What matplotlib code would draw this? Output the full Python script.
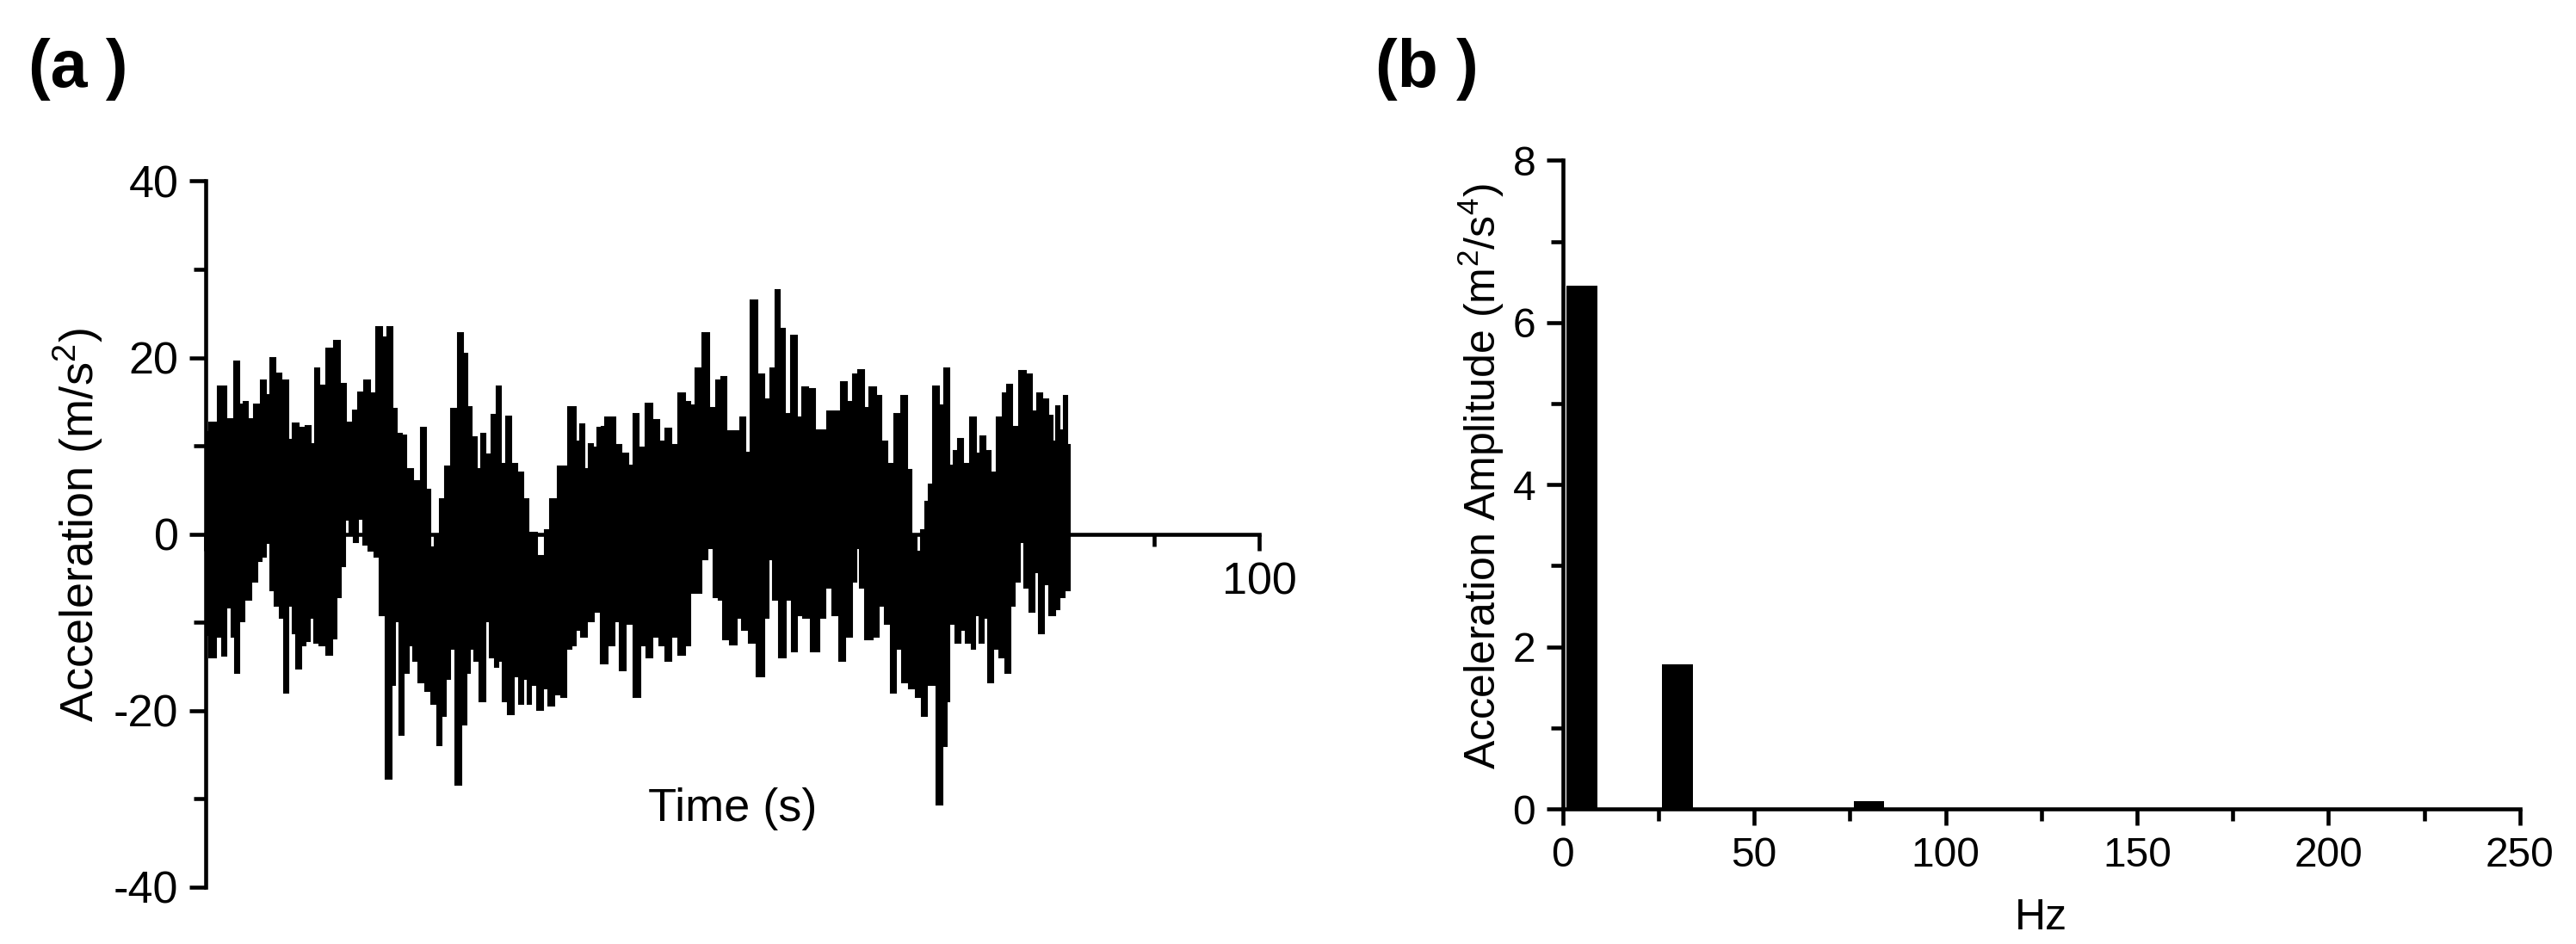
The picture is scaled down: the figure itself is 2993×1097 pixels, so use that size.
import numpy as np
import matplotlib
matplotlib.use('Agg')
import matplotlib.pyplot as plt
from matplotlib import cbook
from matplotlib.ticker import MultipleLocator

plt.rcParams['font.family'] = ['Liberation Sans', 'DejaVu Sans']
plt.rcParams['axes.unicode_minus'] = False
plt.rcParams['mathtext.fontset'] = 'custom'
plt.rcParams['mathtext.rm'] = 'Liberation Sans'
plt.rcParams['mathtext.it'] = 'Liberation Sans:italic'

# --- 1. DATA ---
# (a) acceleration record: upper and lower edge of the dense trace
upper_t = [0.0, 0.7, 1.5, 2.4, 3.0, 3.4, 3.8, 4.25, 4.9, 5.5, 5.9, 6.4, 6.75, 7.6, 8.0,
           8.4, 9.25, 9.7, 10.2, 10.5, 11.1, 11.75, 12.5, 13.0, 13.6, 14.25, 14.7, 15.3,
           15.9, 16.5, 17.0, 17.5, 17.9, 18.4, 18.8, 19.3, 20.1, 20.7, 21.1, 21.5, 21.95,
           22.4, 23.0, 23.6, 24.2, 24.6, 25.0, 25.5, 25.9, 26.3, 26.75, 27.4, 27.8, 28.2,
           28.8, 29.25, 29.9, 30.3, 30.9, 31.9, 32.4, 33.0, 33.8, 34.9, 35.3, 35.7, 36.1,
           36.5, 36.95, 37.4, 37.7, 38.1, 38.7, 39.1, 39.75, 40.4, 40.8, 41.4, 42.0, 42.7,
           43.3, 43.9, 44.5, 45.2, 45.8, 46.2, 46.8, 47.5, 48.1, 48.7, 49.1, 49.75, 50.4,
           51.0, 51.4, 52.0, 52.7, 53.3, 53.9, 54.2, 54.7, 55.2, 55.8, 56.4, 56.8, 57.5,
           58.1, 58.7, 59.3, 60.0, 60.5, 61.2, 61.6, 62.3, 62.7, 63.3, 63.9, 64.3, 65.0,
           65.6, 66.4, 66.8, 67.2, 67.7, 68.1, 68.5, 68.7, 69.3, 69.8, 70.4, 70.8, 71.2,
           71.6, 72.2, 72.9, 73.3, 73.7, 74.3, 74.75, 75.4, 75.8, 76.3, 76.8, 77.5, 78.1,
           78.7, 79.1, 79.75, 80.2, 80.6, 80.8, 81.2, 81.6, 82.0]
upper_acc = [11.6, 12.6, 16.7, 13.0, 19.6, 14.7, 15.0, 13.0, 14.7, 17.4, 15.8, 20.0, 18.2,
             17.4, 10.7, 12.5, 12.1, 12.3, 10.2, 18.8, 16.8, 21.0, 21.9, 17.0, 12.6, 14.0,
             16.1, 17.4, 16.0, 23.5, 22.3, 23.5, 14.2, 11.4, 11.2, 7.4, 6.0, 12.1, 5.0, -1.5,
             0.0, 4.0, 7.7, 14.2, 22.8, 20.4, 14.4, 11.0, 7.4, 11.4, 9.0, 13.5, 16.7, 8.0,
             13.3, 8.0, 7.0, 4.0, 0.2, -2.5, 0.5, 4.0, 7.7, 14.4, 10.5, 12.4, 7.4, 10.2, 9.8,
             12.1, 12.2, 13.2, 13.2, 10.1, 9.1, 7.8, 13.6, 9.8, 14.8, 12.9, 10.5, 12.0, 10.1,
             16.0, 15.0, 14.6, 18.8, 22.8, 14.3, 17.4, 17.8, 11.7, 11.7, 13.2, 9.2, 26.5,
             18.1, 15.3, 18.8, 27.7, 23.3, 13.6, 22.5, 13.2, 16.6, 16.4, 11.8, 11.8, 13.9,
             13.9, 17.2, 15.0, 18.1, 18.6, 14.3, 16.6, 15.7, 10.5, 8.0, 13.6, 15.7, 7.3, 0.0,
             -2.0, 0.5, 3.7, 5.6, 16.7, 14.6, 18.8, 7.8, 9.4, 10.8, 8.0, 13.2, 9.1, 11.1, 9.4,
             7.0, 13.2, 16.0, 16.9, 12.2, 18.5, 18.1, 13.9, 16.0, 15.3, 13.4, 10.5, 14.5,
             11.8, 15.7, 10.1]
lower_t = [0.0, 0.7, 1.3, 1.75, 2.2, 2.6, 3.0, 3.4, 4.0, 4.7, 5.1, 5.5, 5.9, 6.3, 6.8, 7.2,
           7.6, 8.0, 8.4, 8.8, 9.25, 9.7, 10.1, 10.5, 11.1, 11.75, 12.2, 12.6, 13.0, 13.4,
           13.8, 14.25, 14.7, 15.1, 15.7, 16.3, 16.75, 17.4, 17.8, 18.2, 18.6, 19.0, 19.5,
           19.9, 20.5, 21.1, 21.75, 22.2, 22.6, 23.0, 23.4, 24.0, 24.5, 24.9, 25.3, 25.7,
           26.3, 26.75, 27.2, 27.6, 28.0, 28.4, 29.0, 29.5, 29.9, 30.3, 30.7, 31.1, 31.75,
           32.2, 32.8, 33.4, 34.0, 34.5, 34.9, 35.3, 35.9, 36.5, 37.2, 37.7, 38.5, 39.1,
           39.5, 40.2, 40.9, 41.6, 42.0, 42.7, 43.3, 43.9, 44.5, 45.2, 45.8, 46.2, 46.8,
           47.25, 47.9, 48.4, 48.9, 49.3, 50.2, 50.6, 51.2, 51.8, 52.7, 53.3, 53.5, 54.1,
           54.7, 55.4, 55.8, 56.4, 57.0, 57.9, 58.5, 59.1, 59.75, 60.4, 61.0, 61.6, 61.9,
           62.2, 62.9, 63.7, 64.1, 64.75, 65.2, 65.8, 66.4, 67.0, 67.7, 68.2, 68.7, 69.1,
           69.6, 70.2, 70.4, 70.8, 71.4, 71.8, 72.5, 72.9, 73.2, 73.6, 74.1, 74.4, 75.0,
           75.6, 76.2, 76.6, 77.0, 77.5, 77.9, 78.4, 78.9, 79.3, 79.75, 80.4, 80.8, 81.2,
           81.8, 82.0]
lower_acc = [-11.4, -14.0, -11.6, -13.8, -8.3, -11.6, -15.7, -9.9, -7.4, -5.4, -3.1, -2.6,
             -1.0, -6.4, -8.1, -9.5, -18.0, -8.1, -11.2, -15.2, -12.6, -12.1, -9.5, -12.3,
             -12.6, -13.7, -11.8, -7.1, -3.6, 1.6, 0.0, -0.9, 1.7, -1.2, -1.9, -2.6, -9.2,
             -27.7, -17.1, -9.9, -22.7, -15.7, -12.6, -14.4, -16.8, -17.8, -19.2, -23.9,
             -20.6, -16.4, -13.0, -28.4, -21.6, -15.7, -13.0, -14.4, -18.9, -9.9, -14.0,
             -15.0, -14.4, -18.9, -20.4, -16.1, -19.2, -16.4, -19.2, -17.1, -19.9, -17.5,
             -19.4, -18.2, -18.5, -13.0, -12.6, -10.9, -11.6, -9.9, -8.8, -14.7, -12.6,
             -9.9, -15.4, -10.2, -18.5, -12.6, -14.0, -11.6, -12.6, -14.4, -11.6, -13.7,
             -12.6, -6.7, -6.7, -2.9, -1.6, -7.1, -7.4, -11.9, -12.5, -9.5, -10.9, -12.3,
             -16.1, -9.5, -2.9, -7.4, -14.0, -7.4, -13.3, -9.2, -9.5, -13.3, -9.5, -6.1,
             -9.2, -14.4, -11.6, -5.4, -1.6, -6.1, -11.9, -11.6, -8.1, -10.2, -18.0, -13.0,
             -16.8, -17.5, -18.5, -20.6, -17.1, -17.1, -30.6, -24.0, -18.9, -10.2, -12.3,
             -10.9, -12.3, -13.0, -9.2, -12.3, -9.5, -16.8, -13.0, -14.0, -15.7, -8.1, -5.4,
             -0.9, -6.1, -8.8, -4.3, -11.2, -5.7, -9.2, -8.5, -7.1, -6.4, -6.4]

# (b) spectrum bars
freq_hz = [5, 30, 80]
amplitude = [6.45, 1.78, 0.10]

time_ticks = [0, 20, 40, 60, 80, 100]
time_ticklabels = ['', '', '', '', '', '100']

# --- 2. FIGURE ---
fig = plt.figure(figsize=(2993 / 300, 1097 / 300), dpi=300)
ax1 = fig.add_axes([0.0799, 0.0602, 0.409, 0.748])
ax2 = fig.add_axes([0.6067, 0.1431, 0.3715, 0.687])

# panel (a): trace drawn as the band between its upper and lower edge,
# each edge drawn as mid-steps so the spikes get flat tops like the original
up_x, up_y = cbook.pts_to_midstep(np.asarray(upper_t), np.asarray(upper_acc))
lo_x, lo_y = cbook.pts_to_midstep(np.asarray(lower_t), np.asarray(lower_acc))
ax1.fill(np.concatenate([up_x, lo_x[::-1]]), np.concatenate([up_y, lo_y[::-1]]),
         facecolor='black', edgecolor='black', lw=0.5, zorder=3)
ax1.set_xlim(0, 100)
ax1.set_ylim(-40, 40)
ax1.spines['top'].set_visible(False)
ax1.spines['right'].set_visible(False)
ax1.spines['bottom'].set_position(('data', 0))
ax1.set_xticks(time_ticks, time_ticklabels)
ax1.xaxis.set_minor_locator(MultipleLocator(10))
ax1.yaxis.set_major_locator(MultipleLocator(20))
ax1.yaxis.set_minor_locator(MultipleLocator(10))
ax1.tick_params(labelsize=12.5, pad=3)
ax1.set_xlabel('Time (s)', fontsize=13)
ax1.xaxis.set_label_coords(0.5, 0.141)
ax1.set_ylabel('Acceleration (m/s$^\\mathrm{2}$)', fontsize=13)
ax1.yaxis.set_label_coords(-0.0956, 0.513)

# panel (b): amplitude spectrum
ax2.bar(freq_hz, amplitude, width=8, color='black', zorder=3)
ax2.set_xlim(0, 250)
ax2.set_ylim(0, 8)
ax2.spines['top'].set_visible(False)
ax2.spines['right'].set_visible(False)
ax2.xaxis.set_major_locator(MultipleLocator(50))
ax2.xaxis.set_minor_locator(MultipleLocator(25))
ax2.yaxis.set_major_locator(MultipleLocator(2))
ax2.yaxis.set_minor_locator(MultipleLocator(1))
ax2.tick_params(labelsize=11.5, pad=3)
ax2.set_xlabel('Hz', fontsize=12)
ax2.xaxis.set_label_coords(0.5, -0.138)
ax2.set_ylabel('Acceleration Amplitude (m$^\\mathrm{2}$/s$^\\mathrm{4}$)', fontsize=12)
ax2.yaxis.set_label_coords(-0.0594, 0.512)

for ax in (ax1, ax2):
    for s in ax.spines.values():
        s.set_linewidth(1.1)
    ax.tick_params(which='major', direction='out', length=4.6, width=1.1)
    ax.tick_params(which='minor', direction='out', length=3.3, width=1.1)

fig.text(0.011, 0.927, '(a )', fontsize=18.5, fontweight='bold', va='center')
fig.text(0.534, 0.927, '(b )', fontsize=18.5, fontweight='bold', va='center')

fig.savefig('out.png', dpi=300)
